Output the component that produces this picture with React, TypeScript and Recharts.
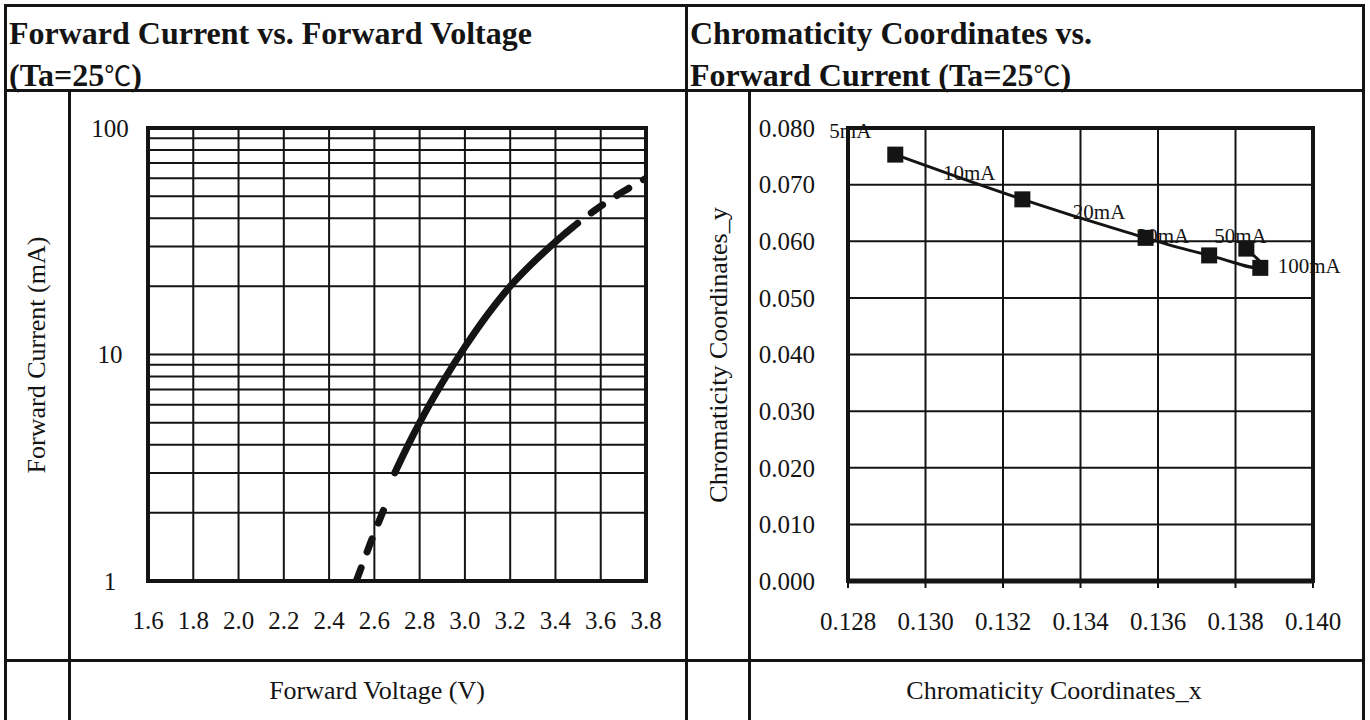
import React from "react";
import {
  ComposedChart,
  Line,
  Scatter,
  XAxis,
  YAxis,
  CartesianGrid,
  ReferenceArea,
} from "recharts";

// forward current vs forward voltage, log current axis
const voltTicks = [1.6, 1.8, 2.0, 2.2, 2.4, 2.6, 2.8, 3.0, 3.2, 3.4, 3.6, 3.8];
const currentTicks = [1, 2, 3, 4, 5, 6, 7, 8, 9, 10, 20, 30, 40, 50, 60, 70, 80, 90, 100];
const currentTickLabels = [1, 10, 100];

// dashed start of the curve
const lowVolt = [2.52, 2.58, 2.64];
const lowCurrent = [1, 1.45, 2.05];
// solid part
const midVolt = [2.69, 2.75, 2.8, 2.9, 3.0, 3.1, 3.2, 3.3, 3.4, 3.45];
const midCurrent = [3, 4, 5, 7.5, 10.8, 15, 20, 25.4, 31.4, 34.7];
// dashed end
const highVolt = [3.45, 3.5, 3.6, 3.7, 3.8];
const highCurrent = [34.7, 38.1, 45.2, 52.5, 60];

// chromaticity coordinates vs forward current
const cieXTicks = [0.128, 0.13, 0.132, 0.134, 0.136, 0.138, 0.14];
const cieYTicks = [0, 0.01, 0.02, 0.03, 0.04, 0.05, 0.06, 0.07, 0.08];
const cieX = [0.12922, 0.1325, 0.13568, 0.13732, 0.13864, 0.13828];
const cieY = [0.0753, 0.0674, 0.0606, 0.0575, 0.0553, 0.0587];
const currentNames = ["5mA", "10mA", "20mA", "30mA", "50mA", "100mA"];
const nameX = [0.12806, 0.13113, 0.13448, 0.13613, 0.13813, 0.1399];
const nameY = [0.0796, 0.0721, 0.0652, 0.061, 0.061, 0.0557];

const serif = '"Liberation Serif", "Times New Roman", serif';
const ink = "#141414";

const toRows = (xs: number[], ys: number[]) => xs.map((v, i) => ({ v, i: ys[i] }));
const lowRows = toRows(lowVolt, lowCurrent);
const midRows = toRows(midVolt, midCurrent);
const highRows = toRows(highVolt, highCurrent);

const cieRows = cieX.map((x, i) => ({ x, y: cieY[i] }));
const nameRows = currentNames.map((text, i) => ({ x: nameX[i], y: nameY[i], text }));

// spreadsheet-style smoothed line (cardinal spline through the points)
const smoothCurve = (context: any) => {
  let pts: number[][] = [];
  const k = 0.24;
  return {
    areaStart() {},
    areaEnd() {},
    lineStart() {
      pts = [];
    },
    point(x: number, y: number) {
      pts.push([+x, +y]);
    },
    lineEnd() {
      if (!pts.length) return;
      context.moveTo(pts[0][0], pts[0][1]);
      for (let i = 0; i < pts.length - 1; i++) {
        const p0 = pts[i - 1] || pts[i];
        const p1 = pts[i];
        const p2 = pts[i + 1];
        const p3 = pts[i + 2] || p2;
        context.bezierCurveTo(
          p1[0] + (p2[0] - p0[0]) * k,
          p1[1] + (p2[1] - p0[1]) * k,
          p2[0] - (p3[0] - p1[0]) * k,
          p2[1] - (p3[1] - p1[1]) * k,
          p2[0],
          p2[1]
        );
      }
    },
  };
};

const rule = (left: number, top: number, width: number, height: number) => (
  <div style={{ position: "absolute", left, top, width, height, background: ink }} />
);

const VoltTick = (props: any) => {
  const { x, y, payload } = props;
  return (
    <text x={x} y={y + 40} textAnchor="middle" fontSize={25} fontFamily={serif} fill={ink}>
      {Number(payload.value).toFixed(1)}
    </text>
  );
};

const CurrentTick = (props: any) => {
  const { x, y, payload } = props;
  if (!currentTickLabels.includes(payload.value)) return <g />;
  return (
    <text x={x - 30} y={y} dy="0.35em" textAnchor="middle" fontSize={25} fontFamily={serif} fill={ink}>
      {payload.value}
    </text>
  );
};

const CieXTick = (props: any) => {
  const { x, y, payload } = props;
  return (
    <text x={x} y={y + 40} textAnchor="middle" fontSize={25} fontFamily={serif} fill={ink}>
      {Number(payload.value).toFixed(3)}
    </text>
  );
};

const CieYTick = (props: any) => {
  const { x, y, payload } = props;
  return (
    <text x={x - 25} y={y} dy="0.35em" textAnchor="end" fontSize={25} fontFamily={serif} fill={ink}>
      {Number(payload.value).toFixed(3)}
    </text>
  );
};

const SquareDot = (props: any) => {
  const { cx, cy, index } = props;
  return <rect key={`sq-${index}`} x={cx - 8} y={cy - 8} width={16} height={16} fill={ink} />;
};

const NameLabel = (props: any) => {
  const { cx, cy, payload } = props;
  return (
    <text x={cx} y={cy} dy="0.35em" textAnchor="middle" fontSize={21} fontFamily={serif} fill={ink}>
      {payload.text}
    </text>
  );
};

function ForwardChart() {
  return (
    <ComposedChart width={620} height={570} margin={{ top: 38, right: 43, left: 0, bottom: 0 }}>
      <CartesianGrid stroke={ink} strokeWidth={2} strokeOpacity={1} />
      <XAxis
        dataKey="v"
        type="number"
        domain={[1.6, 3.8]}
        ticks={voltTicks}
        allowDataOverflow
        height={79}
        axisLine={false}
        tickLine={false}
        tick={<VoltTick />}
        interval={0}
      />
      <YAxis
        dataKey="i"
        type="number"
        scale="log"
        domain={[1, 100]}
        ticks={currentTicks}
        allowDataOverflow
        width={79}
        axisLine={false}
        tickLine={false}
        tick={<CurrentTick />}
        interval={0}
      />
      <ReferenceArea x1={1.6} x2={3.8} y1={1} y2={100} fill="none" stroke={ink} strokeWidth={4} />
      <Line data={lowRows} dataKey="i" type="linear" stroke={ink} strokeWidth={7} strokeDasharray="14 17" strokeLinecap="round" dot={false} isAnimationActive={false} />
      <Line data={midRows} dataKey="i" type="monotone" stroke={ink} strokeWidth={7} strokeLinecap="round" dot={false} isAnimationActive={false} />
      <Line data={highRows} dataKey="i" type="monotone" stroke={ink} strokeWidth={7} strokeDasharray="14 17" strokeLinecap="round" dot={false} isAnimationActive={false} />
    </ComposedChart>
  );
}

function ChromaChart() {
  return (
    <ComposedChart width={615} height={570} margin={{ top: 38, right: 51, left: 0, bottom: 0 }}>
      <CartesianGrid stroke={ink} strokeWidth={2} strokeOpacity={1} />
      <XAxis
        dataKey="x"
        type="number"
        domain={[0.128, 0.14]}
        ticks={cieXTicks}
        height={79}
        axisLine={{ stroke: ink, strokeWidth: 5 }}
        tickLine={{ stroke: ink, strokeWidth: 2 }}
        tickSize={7}
        tick={<CieXTick />}
        interval={0}
      />
      <YAxis
        dataKey="y"
        type="number"
        domain={[0, 0.08]}
        ticks={cieYTicks}
        width={99}
        axisLine={false}
        tickLine={false}
        tick={<CieYTick />}
        interval={0}
      />
      <ReferenceArea x1={0.128} x2={0.14} y1={0} y2={0.08} fill="none" stroke={ink} strokeWidth={4} />
      <Scatter data={nameRows} dataKey="y" shape={<NameLabel />} isAnimationActive={false} />
      <Line data={cieRows} dataKey="y" type={smoothCurve as any} stroke={ink} strokeWidth={3} dot={<SquareDot />} isAnimationActive={false} />
    </ComposedChart>
  );
}

const degree = (
  <span style={{ fontWeight: 400, fontFamily: '"Noto Sans CJK JP", "DejaVu Sans", sans-serif', fontSize: 27 }}>℃</span>
);

export default function App() {
  const title: React.CSSProperties = {
    position: "absolute",
    top: 12,
    fontSize: 32,
    fontWeight: "bold",
    lineHeight: "42px",
    whiteSpace: "nowrap",
  };
  const axisLabel: React.CSSProperties = {
    position: "absolute",
    fontSize: 26,
    lineHeight: "30px",
    whiteSpace: "nowrap",
    textAlign: "center",
  };
  return (
    <div
      style={{
        position: "absolute",
        left: 0,
        top: 0,
        width: 1370,
        height: 720,
        background: "#fff",
        overflow: "hidden",
        fontFamily: serif,
        color: ink,
      }}
    >
      {rule(4, 4, 1361, 3)}
      {rule(4, 4, 3, 716)}
      {rule(1362, 4, 3, 716)}
      {rule(4, 89, 1361, 3)}
      {rule(4, 659, 1361, 3)}
      {rule(685, 4, 3, 716)}
      {rule(68, 89, 3, 631)}
      {rule(748, 89, 3, 631)}

      <div style={{ ...title, left: 9 }}>
        Forward Current vs. Forward Voltage
        <br />
        (Ta=25{degree})
      </div>
      <div style={{ ...title, left: 690 }}>
        Chromaticity Coordinates vs.
        <br />
        Forward Current (Ta=25{degree})
      </div>

      <div style={{ position: "absolute", left: 69, top: 90 }}>
        <ForwardChart />
      </div>
      <div style={{ position: "absolute", left: 749, top: 90 }}>
        <ChromaChart />
      </div>

      <div style={{ ...axisLabel, left: 37 - 200, top: 355 - 15, width: 400, transform: "rotate(-90deg)" }}>
        Forward Current (mA)
      </div>
      <div style={{ ...axisLabel, left: 719 - 200, top: 355 - 15, width: 400, transform: "rotate(-90deg)" }}>
        Chromaticity Coordinates_y
      </div>
      <div style={{ ...axisLabel, left: 377 - 200, top: 691 - 15, width: 400 }}>Forward Voltage (V)</div>
      <div style={{ ...axisLabel, left: 1054 - 200, top: 691 - 15, width: 400 }}>Chromaticity Coordinates_x</div>
    </div>
  );
}
